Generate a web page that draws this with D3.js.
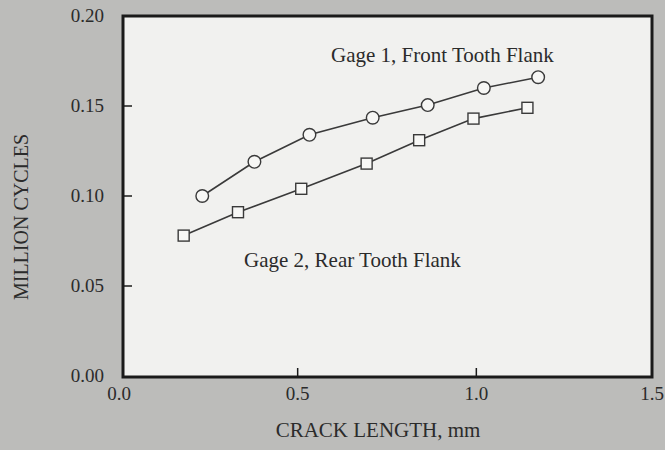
<!DOCTYPE html>
<html lang="en">
<head>
    <meta charset="UTF-8">
    <title>Crack length vs million cycles</title>
    <style>
        body {
            margin: 0;
            background: #bcbcba;
        }
        svg text {
            font-family: "Liberation Serif", "Times New Roman", serif;
            fill: #2b2b2b;
        }
    </style>
    <script src="https://d3js.org/d3.v7.min.js"></script>
</head>
<body>
    <svg id="chart" width="665" height="450"></svg>

    <script>
        // readings taken off the scanned figure
        const gage1Crack = [0.233, 0.379, 0.533, 0.710, 0.864, 1.021, 1.173];
        const gage1Cycles = [0.100, 0.119, 0.134, 0.1435, 0.1505, 0.160, 0.166];
        const gage2Crack = [0.181, 0.333, 0.510, 0.693, 0.840, 0.992, 1.143];
        const gage2Cycles = [0.078, 0.091, 0.104, 0.118, 0.131, 0.143, 0.149];
        const xTicks = [0.0, 0.5, 1.0, 1.5];
        const yTicks = [0.00, 0.05, 0.10, 0.15, 0.20];
        const seriesLabels = ["Gage 1, Front Tooth Flank", "Gage 2, Rear Tooth Flank"];

        const svg = d3.select("#chart");
        const frame = { left: 123, right: 652, top: 16, bottom: 377 };

        const x = d3.scaleLinear().domain([0, 1.5]).range([119, 655]);
        const y = d3.scaleLinear().domain([0, 0.20]).range([376, 16]);

        // plot area
        svg.append("rect")
            .attr("x", frame.left)
            .attr("y", frame.top)
            .attr("width", frame.right - frame.left)
            .attr("height", frame.bottom - frame.top)
            .attr("fill", "#f1f1ef")
            .attr("stroke", "#1a1a1a")
            .attr("stroke-width", 3);

        // y ticks, pointing inward
        svg.selectAll("line.ytick")
            .data(yTicks.slice(1, -1))
            .enter()
            .append("line")
            .attr("class", "ytick")
            .attr("x1", frame.left)
            .attr("x2", frame.left + 9)
            .attr("y1", d => y(d))
            .attr("y2", d => y(d))
            .attr("stroke", "#1a1a1a")
            .attr("stroke-width", 1.5);

        svg.selectAll("text.ylab")
            .data(yTicks)
            .enter()
            .append("text")
            .attr("class", "ylab")
            .attr("x", 104)
            .attr("y", d => y(d) + 6)
            .attr("text-anchor", "end")
            .attr("font-size", 19)
            .text(d => d3.format(".2f")(d));

        // x ticks
        svg.selectAll("line.xtick")
            .data(xTicks.slice(1, -1))
            .enter()
            .append("line")
            .attr("class", "xtick")
            .attr("x1", d => x(d))
            .attr("x2", d => x(d))
            .attr("y1", frame.bottom)
            .attr("y2", frame.bottom - 9)
            .attr("stroke", "#1a1a1a")
            .attr("stroke-width", 1.5);

        // last label would run off the page, so pin it to the right edge
        const lastX = xTicks[xTicks.length - 1];
        svg.selectAll("text.xlab")
            .data(xTicks)
            .enter()
            .append("text")
            .attr("class", "xlab")
            .attr("x", d => d === lastX ? 664 : x(d))
            .attr("y", 400)
            .attr("text-anchor", d => d === lastX ? "end" : "middle")
            .attr("font-size", 19)
            .text(d => d3.format(".1f")(d));

        // axis titles
        svg.append("text")
            .attr("transform", "translate(28,217) rotate(-90)")
            .attr("text-anchor", "middle")
            .attr("font-size", 20)
            .text("MILLION CYCLES");

        svg.append("text")
            .attr("x", 378)
            .attr("y", 437)
            .attr("text-anchor", "middle")
            .attr("font-size", 21)
            .text("CRACK LENGTH, mm");

        const line = d3.line()
            .x(d => x(d[0]))
            .y(d => y(d[1]));

        const gage1 = d3.zip(gage1Crack, gage1Cycles);
        const gage2 = d3.zip(gage2Crack, gage2Cycles);

        [gage1, gage2].forEach(pts => {
            svg.append("path")
                .datum(pts)
                .attr("d", line)
                .attr("fill", "none")
                .attr("stroke", "#3a3a3a")
                .attr("stroke-width", 1.6);
        });

        svg.selectAll("circle.g1")
            .data(gage1)
            .enter()
            .append("circle")
            .attr("class", "g1")
            .attr("cx", d => x(d[0]))
            .attr("cy", d => y(d[1]))
            .attr("r", 6.3)
            .attr("fill", "#f7f7f5")
            .attr("stroke", "#3a3a3a")
            .attr("stroke-width", 1.4);

        svg.selectAll("rect.g2")
            .data(gage2)
            .enter()
            .append("rect")
            .attr("class", "g2")
            .attr("x", d => x(d[0]) - 5.5)
            .attr("y", d => y(d[1]) - 5.5)
            .attr("width", 11)
            .attr("height", 11)
            .attr("fill", "#f7f7f5")
            .attr("stroke", "#3a3a3a")
            .attr("stroke-width", 1.4);

        svg.append("text")
            .attr("x", 331)
            .attr("y", 62)
            .attr("font-size", 21)
            .text(seriesLabels[0]);

        svg.append("text")
            .attr("x", 244)
            .attr("y", 267)
            .attr("font-size", 21)
            .text(seriesLabels[1]);
    </script>
</body>
</html>
